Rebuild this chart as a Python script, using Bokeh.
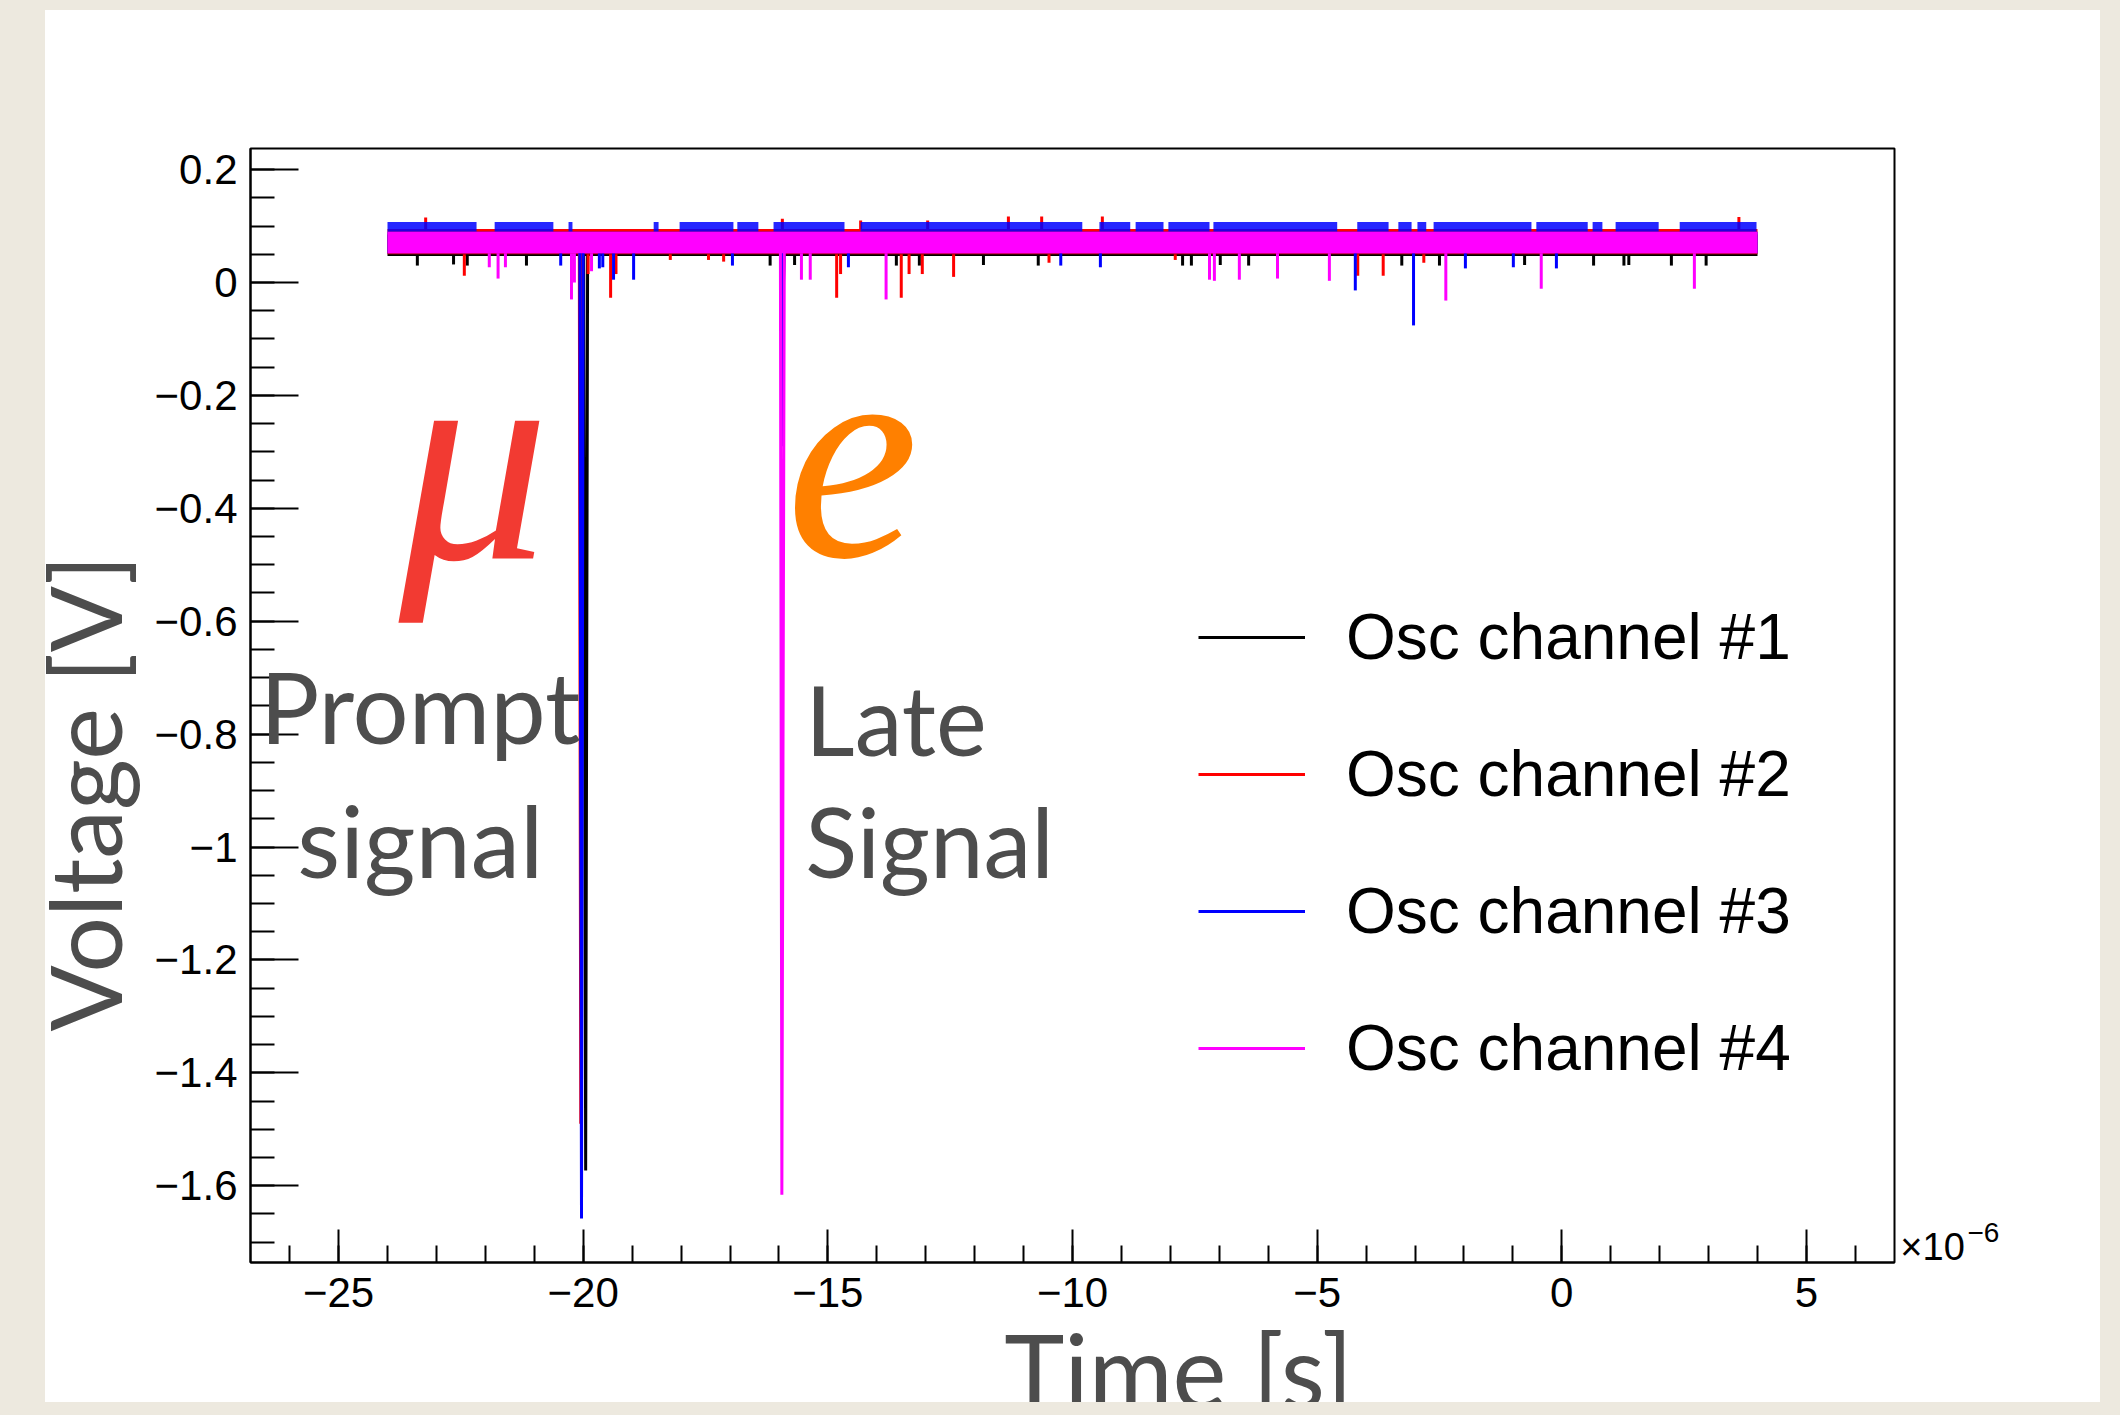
import numpy as np
from bokeh.plotting import figure
from bokeh.models import Range1d, FixedTicker, Label, Legend, LegendItem
from bokeh.embed import file_html
from bokeh.resources import INLINE

# ---------------- data (time in microseconds, voltage in V) ----------------
band_t = [-24.0, 4.0]

# channel 1 (black)
ch1_band_lo = [0.047, 0.047]
ch1_band_hi = [0.085, 0.085]
ch1_dip_t = [-23.39, -22.65, -22.37, -21.16, -16.18, -15.68, -13.60, -13.13, -11.82, -10.70,
             -7.75, -7.57, -6.98, -6.40, -3.27, -2.50, -0.76, 0.65, 1.27, 1.37, 2.24, 2.95]
ch1_dip_v = [0.030, 0.032, 0.030, 0.030, 0.030, 0.031, 0.030, 0.030, 0.031, 0.030,
             0.030, 0.030, 0.031, 0.030, 0.030, 0.030, 0.031, 0.030, 0.030, 0.031, 0.030, 0.030]
ch1_pulse_t = [-19.99, -19.95, -19.91, -15.95, -15.92, -15.89]
ch1_pulse_v = [0.065, -1.573, 0.065, 0.065, -0.050, 0.065]

# channel 2 (red)
ch2_band_lo = [0.050, 0.050]
ch2_band_hi = [0.095, 0.095]
ch2_dip_t = [-22.43, -19.90, -19.44, -19.33, -18.22, -17.44, -17.13, -14.82, -14.74, -13.50,
             -13.34, -13.07, -12.43, -10.48, -7.90, -4.17, -3.65, -2.82]
ch2_dip_v = [0.012, 0.015, -0.027, 0.015, 0.040, 0.040, 0.037, -0.027, 0.015, -0.027,
             0.015, 0.015, 0.010, 0.035, 0.040, 0.012, 0.012, 0.035]
ch2_peak_t = [-23.22, -15.93, -14.33, -12.96, -11.31, -10.63, -9.39, 3.62]
ch2_peak_v = [0.115, 0.113, 0.110, 0.110, 0.117, 0.117, 0.117, 0.116]
ch2_pulse_t = [-20.08, -20.05, -20.02, -15.96, -15.93, -15.90]
ch2_pulse_v = [0.070, -1.490, 0.070, 0.070, -0.010, 0.070]

# channel 3 (blue)
ch3_band_lo = [0.052, 0.052]
ch3_band_hi = [0.090, 0.090]
ch3_fringe_start = [-24.00, -21.81, -20.30, -18.56, -18.03, -16.85, -16.11, -14.33, -9.45, -8.71,
                    -8.04, -7.12, -4.18, -3.34, -2.95, -2.62, -0.52, 0.63, 1.10, 2.41]
ch3_fringe_end = [-22.18, -20.61, -20.22, -18.46, -16.93, -16.42, -14.66, -9.80, -8.82, -8.14,
                  -7.20, -4.59, -3.54, -3.07, -2.77, -0.62, 0.53, 0.83, 1.98, 3.98]
ch3_fringe_top = [0.107] * 20
ch3_dip_t = [-20.46, -19.67, -19.60, -19.38, -18.97, -16.95, -14.58, -10.24, -9.43, -4.22,
             -3.03, -1.97, -0.99, -0.11]
ch3_dip_v = [0.030, 0.025, 0.027, 0.005, 0.005, 0.030, 0.027, 0.030, 0.027, -0.014,
             -0.076, 0.025, 0.027, 0.025]
ch3_pulse_t = [-20.07, -20.035, -20.00, -15.96, -15.93, -15.90]
ch3_pulse_v = [0.070, -1.658, 0.070, 0.070, -0.290, 0.070]

# channel 4 (magenta)
ch4_band_lo = [0.052, 0.052]
ch4_band_hi = [0.090, 0.090]
ch4_dip_t = [-21.92, -21.74, -21.59, -20.24, -20.18, -19.83, -15.54, -15.36, -13.81, -7.20,
             -7.10, -6.59, -5.81, -4.75, -2.37, -0.42, 2.71]
ch4_dip_v = [0.027, 0.007, 0.027, -0.030, 0.000, 0.020, 0.005, 0.005, -0.030, 0.005,
             0.003, 0.005, 0.007, 0.003, -0.032, -0.011, -0.011]
ch4_pulse_t = [-15.97, -15.94, -15.89]
ch4_pulse_v = [0.070, -1.616, 0.070]

series_names = ["Osc channel #1", "Osc channel #2", "Osc channel #3", "Osc channel #4"]
series_colors = ["#000000", "#FF0000", "#0000FF", "#FF00FF"]

x_ticks = [-25, -20, -15, -10, -5, 0, 5]
x_tick_labels = ["\u221225", "\u221220", "\u221215", "\u221210", "\u22125", "0", "5"]
x_minor_ticks = list(range(-26, 7))
y_ticks = [-1.6, -1.4, -1.2, -1.0, -0.8, -0.6, -0.4, -0.2, 0.0, 0.2]
y_tick_labels = ["\u22121.6", "\u22121.4", "\u22121.2", "\u22121", "\u22120.8", "\u22120.6",
                 "\u22120.4", "\u22120.2", "0", "0.2"]
y_minor_ticks = [round(v, 2) for v in np.arange(-1.70, 0.2301, 0.05)]

# ---------------- figure ----------------
PAGE_BG = "#EDE9DF"
LEFT_OFFSET = 21
p = figure(width=2100 - LEFT_OFFSET, height=1392, output_backend="svg", toolbar_location=None,
           x_range=Range1d(-26.8, 6.8), y_range=Range1d(-1.736, 0.2374),
           min_border_left=205, min_border_right=206, min_border_top=138, min_border_bottom=140)
p.margin = (10, 0, 0, LEFT_OFFSET)
# the white card starts 24px inside the figure's left edge; the border is transparent so the
# element background (page colour strip, then white) shows through
p.styles = {"background": "linear-gradient(90deg, %s 0px, %s 24px, #FFFFFF 24px, #FFFFFF 100%%)" % (PAGE_BG, PAGE_BG)}
p.title.visible = False
p.background_fill_color = "white"
p.border_fill_color = None
p.outline_line_color = "black"
p.outline_line_width = 2
p.xgrid.visible = False
p.ygrid.visible = False

lab_font = "Liberation Sans"
grey = "#4D4D4D"
title_font = "Lato"

for ax in (p.xaxis[0], p.yaxis[0]):
    ax.axis_line_width = 2
    ax.axis_line_color = "black"
    ax.major_tick_line_width = 2
    ax.minor_tick_line_width = 2
    ax.major_tick_out = 0
    ax.minor_tick_out = 0
    ax.major_label_text_font = lab_font
    ax.major_label_text_font_size = "42px"
    ax.major_label_text_color = "black"

p.xaxis.ticker = FixedTicker(ticks=x_ticks, minor_ticks=x_minor_ticks)
p.xaxis.major_label_overrides = dict(zip(x_ticks, x_tick_labels))
p.xaxis.major_tick_in = 33
p.xaxis.minor_tick_in = 17
p.xaxis.major_label_standoff = 15

p.yaxis.ticker = FixedTicker(ticks=y_ticks, minor_ticks=y_minor_ticks)
p.yaxis.major_label_overrides = dict(zip(y_ticks, y_tick_labels))
p.yaxis.major_tick_in = 48
p.yaxis.minor_tick_in = 24
p.yaxis.major_label_standoff = 13
p.yaxis.axis_label = "Voltage [V]" + "\u00a0" * 7
p.yaxis.axis_label_text_font = title_font
p.yaxis.axis_label_text_font_size = "98px"
p.yaxis.axis_label_text_font_style = "normal"
p.yaxis.axis_label_text_color = grey
p.yaxis.axis_label_standoff = 9

SPK_W = 3
PLS_W = 3

# channel 1
c = series_colors[0]
p.varea(x=band_t, y1=ch1_band_lo, y2=ch1_band_hi, fill_color=c)
p.segment(x0=ch1_dip_t, x1=ch1_dip_t, y0=[ch1_band_lo[0]] * len(ch1_dip_t), y1=ch1_dip_v,
          line_color=c, line_width=SPK_W)
r1 = p.line(ch1_pulse_t, ch1_pulse_v, line_color=c, line_width=PLS_W)

# channel 2
c = series_colors[1]
p.varea(x=band_t, y1=ch2_band_lo, y2=ch2_band_hi, fill_color=c)
p.segment(x0=ch2_dip_t, x1=ch2_dip_t, y0=[ch2_band_lo[0]] * len(ch2_dip_t), y1=ch2_dip_v,
          line_color=c, line_width=SPK_W)
p.segment(x0=ch2_peak_t, x1=ch2_peak_t, y0=[ch2_band_hi[0]] * len(ch2_peak_t), y1=ch2_peak_v,
          line_color=c, line_width=SPK_W)
r2 = p.line(ch2_pulse_t, ch2_pulse_v, line_color=c, line_width=PLS_W)

# channel 3
c = series_colors[2]
p.varea(x=band_t, y1=ch3_band_lo, y2=ch3_band_hi, fill_color=c)
p.quad(left=ch3_fringe_start, right=ch3_fringe_end, bottom=[ch3_band_hi[0]] * len(ch3_fringe_start),
       top=ch3_fringe_top, fill_color=c, fill_alpha=0.85, line_color=None)
p.segment(x0=ch3_dip_t, x1=ch3_dip_t, y0=[ch3_band_lo[0]] * len(ch3_dip_t), y1=ch3_dip_v,
          line_color=c, line_width=SPK_W)
r3 = p.line(ch3_pulse_t, ch3_pulse_v, line_color=c, line_width=PLS_W)

# channel 4
c = series_colors[3]
p.varea(x=band_t, y1=ch4_band_lo, y2=ch4_band_hi, fill_color=c)
p.segment(x0=ch4_dip_t, x1=ch4_dip_t, y0=[ch4_band_lo[0]] * len(ch4_dip_t), y1=ch4_dip_v,
          line_color=c, line_width=SPK_W)
r4 = p.line(ch4_pulse_t, ch4_pulse_v, line_color=c, line_width=PLS_W)

legend = Legend(items=[LegendItem(label=n, renderers=[r]) for n, r in zip(series_names, [r1, r2, r3, r4])],
                location=(948, 164), orientation="vertical",
                glyph_width=107, glyph_height=100, label_height=100, label_width=300,
                label_standoff=41, spacing=37, padding=0, margin=0,
                label_text_font=lab_font, label_text_font_size="64px", label_text_color="black",
                border_line_alpha=0, background_fill_alpha=0)
p.add_layout(legend)

# x-axis title and multiplier live in side panels so that they are not clipped to the frame
p.add_layout(Label(x=-7.83, y=-1.9256, text="Time [s]",
                   text_font=title_font, text_font_size="102px", text_color=grey,
                   text_align="center", text_baseline="alphabetic"), "above")
p.add_layout(Label(x=6.92, y=-1.7077, text="\u00d710", text_font=lab_font, text_font_size="38px",
                   text_color="black", text_align="left", text_baseline="alphabetic"), "right")
p.add_layout(Label(x=8.29, y=-1.6822, text="\u22126", text_font=lab_font, text_font_size="28px",
                   text_color="black", text_align="left", text_baseline="alphabetic"), "right")

# particle symbols
p.add_layout(Label(x=-23.77, y=-0.31, text="\u03bc", text_font="Liberation Serif",
                   text_font_style="italic", text_font_size="300px", text_color="#F23A32",
                   text_align="left", text_baseline="alphabetic"))
p.add_layout(Label(x=-15.86, y=-0.31, text="e", text_font="Liberation Serif",
                   text_font_style="italic", text_font_size="300px", text_color="#FF8000",
                   text_align="left", text_baseline="alphabetic"))

# signal annotations
p.add_layout(Label(x=-23.33, y=-0.7495, text="Prompt", text_font=title_font, text_font_size="99px",
                   text_color=grey, text_align="center", text_baseline="alphabetic"))
p.add_layout(Label(x=-23.33, y=-0.987, text="signal", text_font=title_font, text_font_size="99px",
                   text_color=grey, text_align="center", text_baseline="alphabetic"))
p.add_layout(Label(x=-15.46, y=-0.772, text="Late", text_font=title_font, text_font_size="96px",
                   text_color=grey, text_align="left", text_baseline="alphabetic"))
p.add_layout(Label(x=-15.46, y=-0.989, text="Signal", text_font=title_font, text_font_size="96px",
                   text_color=grey, text_align="left", text_baseline="alphabetic"))

html = file_html(p, INLINE, title="Muon decay oscilloscope traces")
html = html.replace("<head>", "<head>\n<style>html, body { background-color: %s; overflow: hidden; }</style>" % PAGE_BG, 1)
open("out.html", "w").write(html)
